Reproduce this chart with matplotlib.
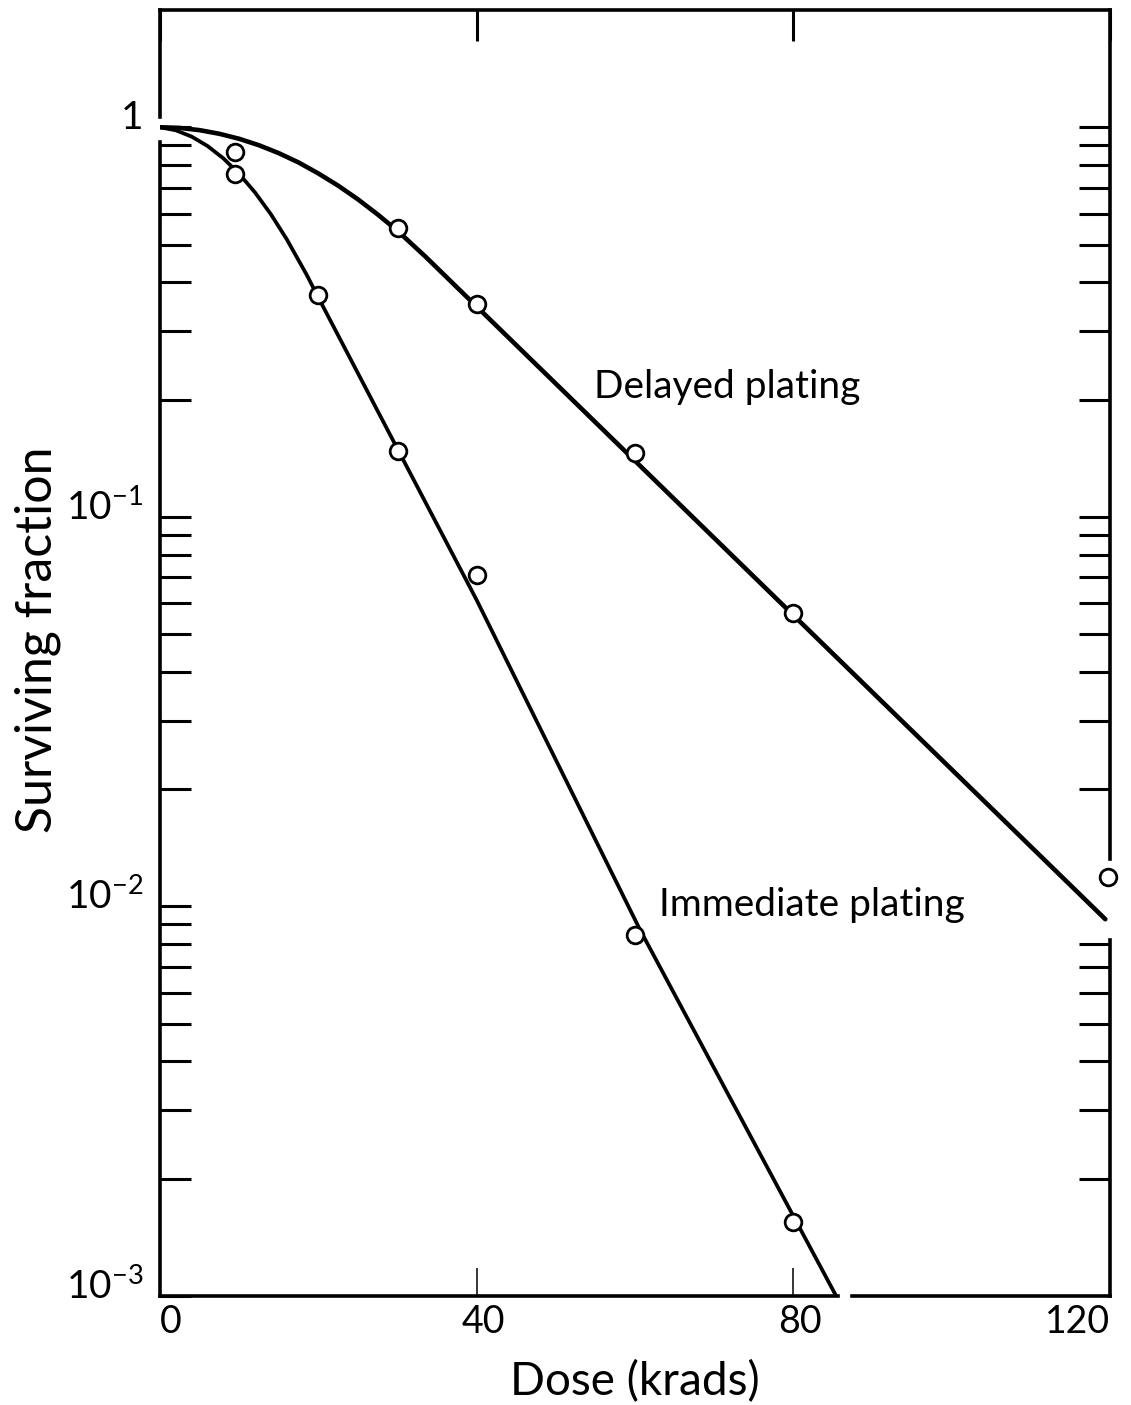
import matplotlib.pyplot as plt
import matplotlib.transforms as mtransforms

# open circles
delayed_dose = [9.5, 30, 40, 60, 80, 119.7]
delayed_surv = [0.863, 0.552, 0.352, 0.146, 0.0568, 0.0119]
immediate_dose = [9.5, 20, 30, 40, 60, 80]
immediate_surv = [0.758, 0.372, 0.1475, 0.0707, 0.00843, 0.00155]

# hand-drawn survival curves, traced point by point
delayed_curve_dose = [0, 2.5, 5, 7.5, 10, 12.5, 15, 17.5, 20, 22.5, 25, 27.5, 30, 33.5, 119.4]
delayed_curve_surv = [1.0, 0.996, 0.983, 0.962, 0.934, 0.899, 0.858, 0.812, 0.761,
                      0.708, 0.653, 0.597, 0.542, 0.466, 0.00927]
immediate_curve_dose = [0, 2, 4, 6, 8, 10, 12, 14, 16, 18.5, 19.8, 29.8, 40.0, 60.6, 85.4]
immediate_curve_surv = [1.0, 0.982, 0.946, 0.895, 0.832, 0.759, 0.680, 0.598, 0.516,
                        0.419, 0.372, 0.152, 0.0611, 0.00873, 0.001]

dose_ticks = [0, 40, 80, 120]
dose_labels = ['0', '40', '80', '120']
surv_ticks = [1e-3, 1e-2, 1e-1, 1]
surv_labels = [r'$10^{-3}$', r'$10^{-2}$', r'$10^{-1}$', '1']

plt.rcParams['font.family'] = ['Lato', 'DejaVu Sans']
plt.rcParams['mathtext.default'] = 'regular'

fig = plt.figure(figsize=(11.31, 14.05), dpi=100)
ax = fig.add_axes([0.1415, 0.0776, 0.8400, 0.9153])
ax.set_yscale('log')
ax.set_xlim(0, 120)
ax.set_ylim(1e-3, 2)

ax.plot(delayed_curve_dose, delayed_curve_surv, color='black', lw=3.3, solid_capstyle='round')
ax.plot(immediate_curve_dose, immediate_curve_surv, color='black', lw=2.7, solid_capstyle='round')
ax.plot(delayed_dose, delayed_surv, 'o', ms=12, mfc='white', mec='black', mew=2, clip_on=False, zorder=5)
ax.plot(immediate_dose, immediate_surv, 'o', ms=12, mfc='white', mec='black', mew=2, clip_on=False, zorder=5)

ax.text(54.8, 0.216, 'Delayed plating', fontsize=28, va='center', ha='left')
ax.text(63.0, 0.0101, 'Immediate plating', fontsize=28, va='center', ha='left')

# x axis: thin ticks below, labels offset like the original
ax.set_xticks(dose_ticks)
ax.set_xticklabels(dose_labels, fontsize=27)
ax.tick_params(axis='x', direction='in', length=20, width=1.1, bottom=True, top=False, pad=6)
xl = ax.get_xticklabels()
xl[0].set_ha('left')
xl[-1].set_ha('right')
shift = mtransforms.ScaledTranslation(0.07, 0, fig.dpi_scale_trans)
for lab in xl[1:3]:
    lab.set_transform(lab.get_transform() + shift)

minor = [m * 10.0 ** k for k in (-3, -2, -1) for m in range(2, 10)]
ax.set_yticks(surv_ticks)
ax.set_yticklabels(surv_labels, fontsize=28)
ax.set_yticks(minor, minor=True)
ax.tick_params(axis='y', which='both', direction='in', length=22, width=2.2, left=True, right=False, pad=12)
ax.yaxis.get_major_ticks()[-1].tick1line.set_visible(False)
up = mtransforms.ScaledTranslation(0, 0.13, fig.dpi_scale_trans)
for lab in ax.get_yticklabels():
    lab.set_transform(lab.get_transform() + up)

ax.set_xlabel('Dose (krads)', fontsize=33, labelpad=14)
ax.set_ylabel('Surviving fraction', fontsize=36)
ax.yaxis.set_label_coords(-0.104, 0.51)

# second axes for the right-hand ticks and the other half of the broken frame
tw = ax.twinx()
tw.set_yscale('log')
tw.set_ylim(1e-3, 2)
tw.set_yticks([1e-1, 1])
tw.set_yticks([t for t in minor if abs(t - 0.009) > 1e-6], minor=True)
tw.tick_params(axis='y', which='both', direction='in', length=22, width=2.2, labelright=False)
tw.xaxis.set_visible(True)
tw.tick_params(axis='x', direction='in', length=22, width=2.2, bottom=False, top=True,
               labelbottom=False, labeltop=False)

for sp in ax.spines.values():
    sp.set_linewidth(2.6)
for sp in tw.spines.values():
    sp.set_linewidth(2.6)
ax.spines['left'].set_bounds(1e-3, 0.915)
ax.spines['right'].set_bounds(1e-3, 0.0082)
ax.spines['bottom'].set_bounds(0, 85.6)
tw.spines['left'].set_bounds(1.06, 2)
tw.spines['right'].set_bounds(0.0132, 2)
tw.spines['bottom'].set_bounds(87.4, 120)
tw.spines['top'].set_visible(False)

fig.savefig('out.png', dpi=100)
